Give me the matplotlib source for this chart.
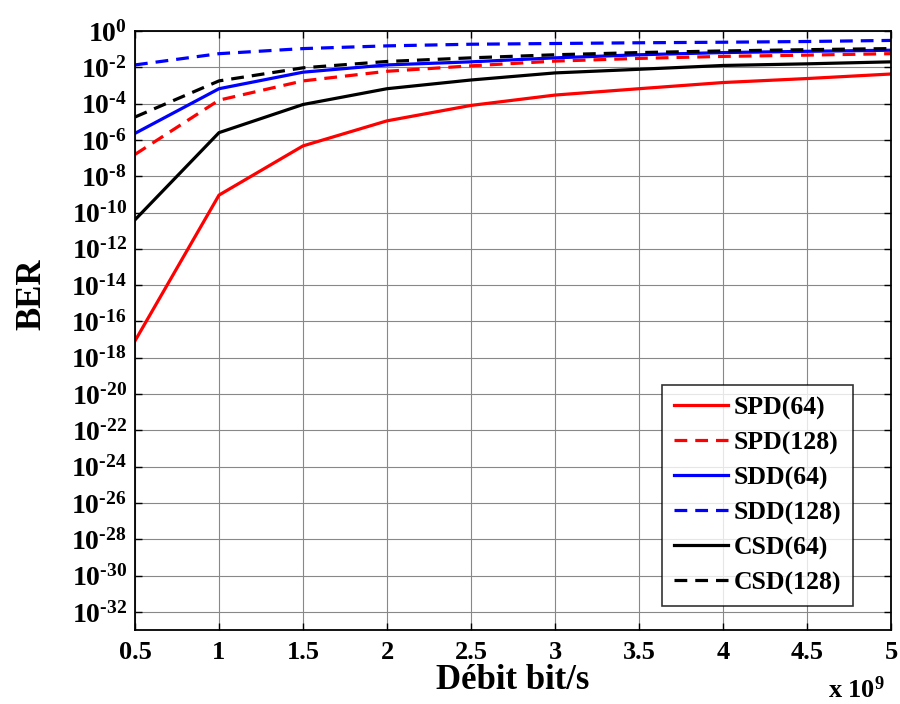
import numpy as np
import matplotlib
matplotlib.use("Agg")
import matplotlib.pyplot as plt

plt.rcParams['font.family'] = ['Liberation Serif', 'DejaVu Serif']
plt.rcParams['font.weight'] = 'bold'
plt.rcParams['mathtext.fontset'] = 'custom'
plt.rcParams['mathtext.rm'] = 'Liberation Serif:bold'
plt.rcParams['mathtext.bf'] = 'Liberation Serif:bold'
plt.rcParams['mathtext.it'] = 'Liberation Serif:bold'

# Data rate (x 1e9 bit/s)
debit = [0.5, 1.0, 1.5, 2.0, 2.5, 3.0, 3.5, 4.0, 4.5, 5.0]
# BER exponents (log10 BER)
spd64_exp = [-17.07, -9.04, -6.33, -4.95, -4.10, -3.53, -3.18, -2.84, -2.62, -2.37]
spd128_exp = [-6.80, -3.81, -2.75, -2.22, -1.92, -1.66, -1.51, -1.40, -1.33, -1.25]
sdd64_exp = [-5.64, -3.18, -2.27, -1.87, -1.70, -1.48, -1.31, -1.19, -1.12, -1.06]
sdd128_exp = [-1.87, -1.25, -0.97, -0.82, -0.73, -0.69, -0.65, -0.62, -0.58, -0.52]
csd64_exp = [-10.40, -5.60, -4.05, -3.18, -2.70, -2.31, -2.11, -1.90, -1.81, -1.70]
csd128_exp = [-4.74, -2.75, -2.03, -1.68, -1.48, -1.31, -1.19, -1.10, -1.03, -0.97]

labels = ['SPD(64)', 'SPD(128)', 'SDD(64)', 'SDD(128)', 'CSD(64)', 'CSD(128)']
colors = ['#ff0000', '#ff0000', '#0000ff', '#0000ff', '#000000', '#000000']
styles = ['-', '--', '-', '--', '-', '--']
series = [spd64_exp, spd128_exp, sdd64_exp, sdd128_exp, csd64_exp, csd128_exp]

yticks_exp = list(range(0, -33, -2))
xticks = [0.5, 1, 1.5, 2, 2.5, 3, 3.5, 4, 4.5, 5]

fig = plt.figure(figsize=(9, 7.04), dpi=100)
ax = fig.add_axes([0.15, 0.105, 0.84, 0.851])

x = np.array(debit) * 1e9
for exps, lab, c, ls in zip(series, labels, colors, styles):
    ax.plot(x, 10.0 ** np.array(exps), color=c, linestyle=ls, linewidth=2.3,
            label=lab, dashes=(4, 2.5) if ls == '--' else (None, None))

ax.set_yscale('log')
ax.set_xlim(0.5e9, 5e9)
ax.set_ylim(1e-33, 1e0)
ax.set_yticks([10.0 ** e for e in yticks_exp])
ax.set_yticklabels([r'$10^{%s}$' % (('\u2010%d' % -e) if e < 0 else '0')
                    for e in yticks_exp])
ax.yaxis.set_minor_locator(matplotlib.ticker.NullLocator())
ax.set_xticks([v * 1e9 for v in xticks])
ax.set_xticklabels(['%g' % v for v in xticks])

ax.grid(True, color='#888888', linewidth=0.8)
ax.tick_params(direction='in', top=True, right=True, length=5, width=1, pad=8)
ax.tick_params(axis='y', labelsize=20, pad=6)
ax.tick_params(axis='x', labelsize=19, pad=8)
for lbl in ax.get_xticklabels() + ax.get_yticklabels():
    lbl.set_fontweight('bold')
for sp in ax.spines.values():
    sp.set_linewidth(1.3)

ax.set_xlabel('Débit bit/s', fontsize=25, fontweight='bold', labelpad=0)
ax.set_ylabel('BER', fontsize=25, fontweight='bold')
ax.yaxis.set_label_coords(-0.114, 0.56)
fig.text(0.952, 0.001, r'x $10^{9}$', fontsize=19, fontweight='bold',
         ha='center', va='bottom')

leg = ax.legend(loc='lower right', bbox_to_anchor=(0.95, 0.04), fontsize=18.5,
                frameon=True, fancybox=False, edgecolor='black',
                handlelength=2.1, handletextpad=0.25, labelspacing=0.45,
                borderpad=0.45, borderaxespad=0)
leg.get_frame().set_linewidth(1.2)
for t in leg.get_texts():
    t.set_fontweight('bold')

fig.savefig('out.png', dpi=100)
